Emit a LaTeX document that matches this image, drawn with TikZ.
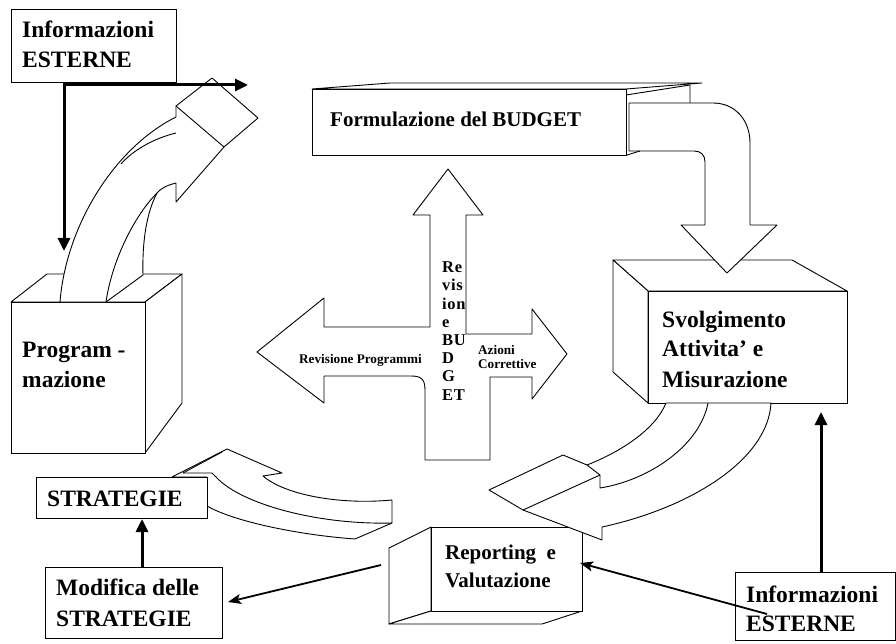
\documentclass[tikz,border=0pt]{standalone}
\usepackage{fontspec}
\setmainfont{Liberation Serif}
\newfontfamily\spacedserif[LetterSpace=4]{Liberation Serif}
\usetikzlibrary{arrows.meta}
\newcommand{\fbig}{\fontsize{23.5}{30}\selectfont\bfseries}
\newcommand{\fmid}{\fontsize{21}{28}\selectfont\bfseries}
\newcommand{\fsmall}{\fontsize{13.2}{14}\selectfont\bfseries}
\newcommand{\fvert}{\fontsize{16.5}{18}\selectfont\spacedserif\bfseries}
\begin{document}
\begin{tikzpicture}[x=1pt,y=-1pt,
  frontbox/.style={draw,line width=1.1pt,fill=white,inner sep=0pt,anchor=north west},
  face/.style={draw,line width=0.9pt,fill=white,line join=round},
  edge/.style={draw,line width=0.9pt,line join=round},
  lbl/.style={anchor=base west,inner sep=0pt},
  thickarr/.style={line width=3pt,-{Triangle[length=13pt,width=12pt]}},
  thinarr/.style={line width=1.8pt,-{Stealth[length=13pt,width=10pt,inset=3pt]}}]

\useasboundingbox (0,0) rectangle (896,644);
\clip (0,0) rectangle (896,644);
\fill[white] (0,0) rectangle (896,644);

% ---------- Programmazione cube ----------
\draw[face] (11,302) -- (47,274) -- (182,274) -- (145,302) -- cycle;
\draw[face] (145,302) -- (182,274) -- (182,403) -- (145,453) -- cycle;
\node[frontbox,minimum width=134pt,minimum height=151pt] (prog) at (11,302) {};
\node[lbl,font=\fbig] (progA) at (22,357) {Program -};
\node[lbl,font=\fbig] (progB) at (22,387) {mazione};

% ---------- curved arrow Programmazione -> Budget ----------
\draw[face] (60,302) .. controls (66,226) and (114,148) .. (176,117) -- (176,106)
  -- (212,78) -- (258,118) -- (224,147) -- (176,202) -- (176,183)
  .. controls (168,185) and (161,188) .. (157,193)
  .. controls (147,212) and (142,240) .. (143,275) -- (106,302) -- cycle;
\draw[edge] (176,106) -- (224,147);
\draw[edge] (176,133) .. controls (155,138) and (133,150) .. (121,164);
\draw[edge] (157,193) .. controls (135,215) and (112,260) .. (106,302);

% ---------- Informazioni ESTERNE (top left) ----------
\node[frontbox,minimum width=165pt,minimum height=73pt] (infoTL) at (11,9) {};
\node[lbl,font=\fbig] (infoTLa) at (22,38) {Informazioni};
\node[lbl,font=\fbig] (infoTLb) at (22,68) {ESTERNE};
\coordinate (progIn) at (64,251);
\coordinate (hStart) at (62.5,85);
\coordinate (hEnd) at (248,85);
\draw[thickarr] (infoTL.south -| progIn) -- (progIn);
\draw[thickarr] (hStart) -- (hEnd);

% ---------- Svolgimento cube ----------
\draw[face] (613,260) -- (792,260) -- (847,291) -- (648,291) -- cycle;
\draw[face] (613,260) -- (648,291) -- (648,403) -- (613,372) -- cycle;
\node[frontbox,minimum width=199pt,minimum height=112pt] (svol) at (648,291) {};
\node[lbl,font=\fbig] (svolA) at (662,327) {Svolgimento};
\node[lbl,font=\fbig] (svolB) at (662,356) {Attivita’ e};
\node[lbl,font=\fbig] (svolC) at (662,387) {Misurazione};

% ---------- Budget box ----------
\draw[face] (312,89) -- (390,83) -- (702,83) -- (626,89) -- cycle;
\draw[edge] (626,95) -- (690,85) -- (690,103);
\node[frontbox,minimum width=314pt,minimum height=66pt] (budget) at (312,89) {};
\node[lbl,font=\fmid] (budgetT) at (330,127) {Formulazione del BUDGET};

% ---------- bent arrow Budget -> Svolgimento ----------
\draw[face] (629,103) -- (713,103) .. controls (735,103) and (750,120) .. (750,143)
  -- (750,225) -- (777,225) -- (727,273) -- (681,225) -- (705,225) -- (705,162)
  .. controls (705,155) and (701,151) .. (694,151) -- (629,151) -- cycle;
\draw[edge] (627,155) -- (640,151);

% ---------- central cross arrow ----------
\draw[face] (448,169) -- (483,215) -- (466,215) -- (466,334) -- (532,334) -- (532,309)
  -- (567,354) -- (532,399) -- (532,377) -- (490,377) -- (490,460) -- (425,460)
  -- (425,390) .. controls (425,379) and (421,376) .. (411,376) -- (324,376)
  -- (324,403) -- (257,352) -- (324,298) -- (324,327) -- (430,327) -- (430,215)
  -- (413,215) -- cycle;
\node[lbl,font=\fsmall] (revProg) at (299,363) {Revisione Programmi};
\node[lbl,font=\fsmall] (azA) at (478,354) {Azioni};
\node[lbl,font=\fsmall] (azB) at (478,368) {Correttive};
\node[lbl,font=\fvert] (v1) at (442,272.7) {Re};
\node[lbl,font=\fvert] (v2) at (442,290.9) {vis};
\node[lbl,font=\fvert] (v3) at (442,309.1) {ion};
\node[lbl,font=\fvert] (v4) at (442,327.3) {e};
\node[lbl,font=\fvert] (v5) at (442,345.5) {BU};
\node[lbl,font=\fvert] (v6) at (442,363.7) {D};
\node[lbl,font=\fvert] (v7) at (442,381.9) {G};
\node[lbl,font=\fvert] (v8) at (442,400.1) {ET};

% ---------- curved arrow Reporting -> STRATEGIE ----------
\draw[face] (172,477) -- (227,449) -- (282,473) -- (263,476)
  .. controls (285,495) and (340,505) .. (392,500) -- (392,523) -- (355,539)
  .. controls (300,535) and (235,522) .. (207,506) -- (207,477) -- cycle;
\draw[edge] (183,473) -- (222,452);
\draw[edge] (183,473) -- (212,473) -- (217,478) .. controls (243,505) and (320,525) .. (392,523);

% ---------- STRATEGIE boxes ----------
\node[frontbox,minimum width=171pt,minimum height=41pt] (strat) at (36,477) {};
\node[lbl,font=\fbig] (stratT) at (47,506) {STRATEGIE};
\node[frontbox,minimum width=177pt,minimum height=71pt] (modif) at (45,567) {};
\node[lbl,font=\fbig] (modifA) at (56,595) {Modifica delle};
\node[lbl,font=\fbig] (modifB) at (56,626) {STRATEGIE};
\coordinate (stratIn) at (142,519);
\draw[thickarr] (modif.north -| stratIn) -- (stratIn);

% ---------- Reporting box ----------
\draw[face] (389,548) -- (431,527) -- (431,611) -- (389,624) -- cycle;
\draw[face] (389,624) -- (431,611) -- (582,611) -- (542,624) -- cycle;
\node[frontbox,minimum width=151pt,minimum height=84pt] (report) at (431,527) {};
\node[lbl,font=\fmid] (reportA) at (445,559) {Reporting~ e};
\node[lbl,font=\fmid] (reportB) at (445,587) {Valutazione};

% ---------- curved arrow Svolgimento -> Reporting ----------
\draw[face] (666,403) .. controls (655,430) and (620,452) .. (587,465) -- (563,455)
  -- (489,490) -- (523,510) -- (602,540) -- (602,527)
  .. controls (690,508) and (768,460) .. (771,403) -- cycle;
\draw[edge] (587,465) -- (600,475) -- (600,488) .. controls (650,480) and (700,445) .. (708,403);
\draw[edge] (523,510) -- (600,475);

% ---------- Informazioni ESTERNE (bottom right) ----------
\node[frontbox,minimum width=160pt,minimum height=68pt] (infoBR) at (735,572) {};
\node[lbl,font=\fbig] (infoBRa) at (746,602) {Informazioni};
\node[lbl,font=\fbig] (infoBRb) at (746,631) {ESTERNE};
\coordinate (svolIn) at (821,412);
\draw[thickarr] (infoBR.north -| svolIn) -- (svolIn);

% ---------- thin arrows ----------
\coordinate (infoOut) at (767,614);
\coordinate (repIn) at (580,563);
\draw[thinarr] (infoOut) -- (repIn);
\coordinate (repOut) at (381,565);
\coordinate (modIn) at (228,602);
\draw[thinarr] (repOut) -- (modIn);
\end{tikzpicture}
\end{document}
